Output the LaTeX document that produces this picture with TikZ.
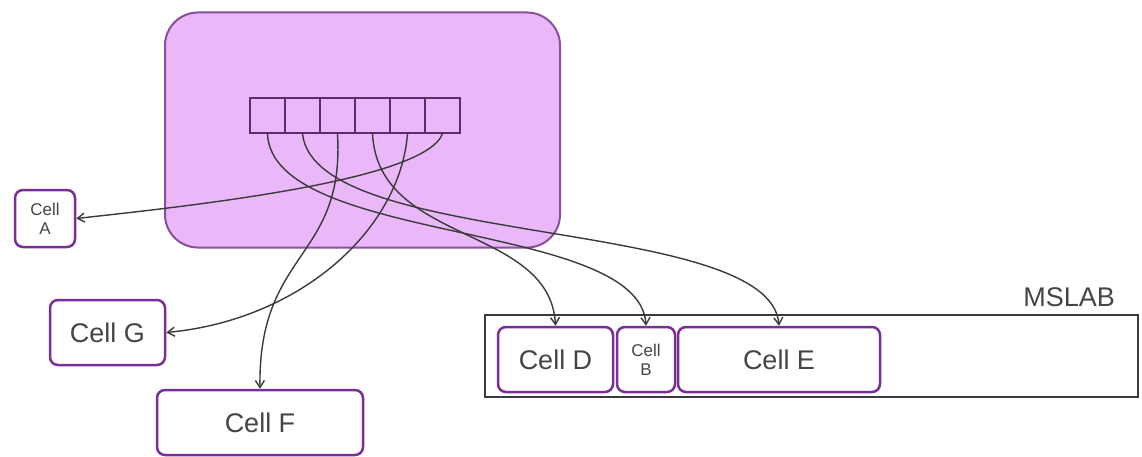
\documentclass[tikz,border=0pt]{standalone}
\usepackage{fontspec}
\setmainfont{Liberation Sans}
\usetikzlibrary{arrows.meta}
\definecolor{bigfill}{HTML}{EAB8F8}
\definecolor{bigdraw}{HTML}{8A4F9C}
\definecolor{slotdraw}{HTML}{5E2C6E}
\definecolor{cellpurple}{HTML}{7A2E98}
\definecolor{txt}{HTML}{454545}
\definecolor{arr}{HTML}{3A3A3A}
\begin{document}
\begin{tikzpicture}[x=1pt,y=-1pt,
  cellbox/.style={draw=cellpurple, line width=2.5pt, rounded corners=8pt, fill=white, text=txt, inner sep=0pt, font=\fontsize{27}{31}\selectfont},
  smallcell/.style={cellbox, font=\fontsize{17}{19}\selectfont, align=center},
  slot/.style={draw=slotdraw, line width=1.5pt, minimum width=35pt, minimum height=35pt, inner sep=0pt},
  link/.style={draw=arr, line width=1.4pt, -{Straight Barb[length=7pt,width=9pt]}},
]
\useasboundingbox (0,0) rectangle (1142,457);
% host block
\node[draw=bigdraw, fill=bigfill, line width=2pt, rounded corners=33pt, minimum width=395pt, minimum height=235pt, inner sep=0pt] (host) at (362.5,130) {};
\foreach \i in {1,...,6} \node[slot] (s\i) at ({232.5+35*\i},115.5) {};
% MSLAB
\node[draw=arr, line width=1.5pt, minimum width=653pt, minimum height=82pt, inner sep=0pt] (mslab) at (811.5,356) {};
\node[font=\fontsize{27}{31}\selectfont, text=txt, anchor=east, inner sep=0pt] (mslablabel) at (1115,297) {MSLAB};
% cells
\node[smallcell, minimum width=60pt, minimum height=57pt] (A) at (45,218.5) {Cell\\A};
\node[cellbox, minimum width=115pt, minimum height=65pt] (G) at (107.5,332.5) {Cell G};
\node[cellbox, minimum width=206pt, minimum height=65pt] (F) at (260,422.5) {Cell F};
\node[cellbox, minimum width=115pt, minimum height=65pt] (D) at (555.5,359.5) {Cell D};
\node[smallcell, minimum width=58pt, minimum height=65pt] (B) at (646,359.5) {Cell\\B};
\node[cellbox, minimum width=202pt, minimum height=65pt] (E) at (779,359.5) {Cell E};
% links
\draw[link] (s6.south) .. controls (425,180) and (200,205) .. (A.east);
\draw[link] (s5.south) .. controls (400,230) and (300,320) .. (G.east);
\draw[link] (s3.south) .. controls (345,260) and (258,250) .. (F.north);
\draw[link] (s4.south) .. controls (378,245) and (550,225) .. (D.north);
\draw[link] (s1.south) .. controls (272,245) and (640,220) .. (B.north);
\draw[link] (s2.south) .. controls (315,250) and (770,215) .. (E.north);
\end{tikzpicture}
\end{document}
